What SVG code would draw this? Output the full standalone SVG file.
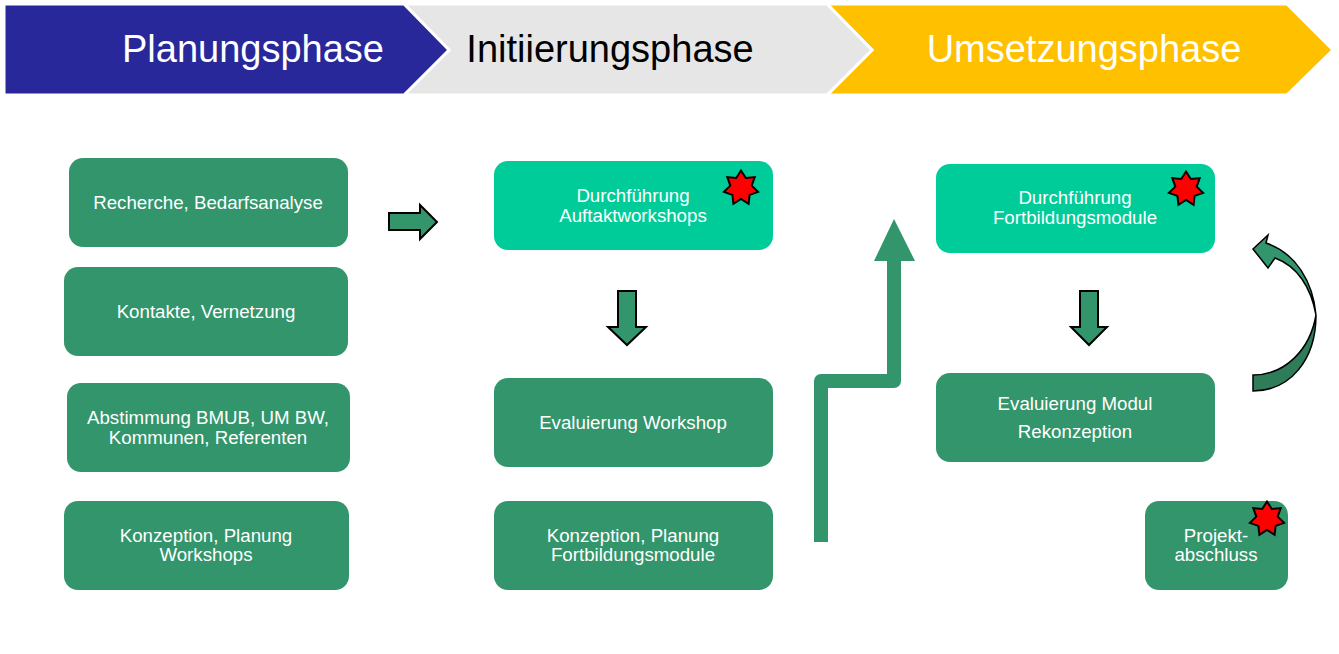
<svg xmlns="http://www.w3.org/2000/svg" width="1339" height="654" viewBox="0 0 1339 654">
<style>
.box{fill:#33956B}
.hi{fill:#00CC99}
.t{font-family:"Liberation Sans",Arial,sans-serif;font-size:18.7px;fill:#FFFFFF;text-anchor:middle}
.ph{font-family:"Liberation Sans",Arial,sans-serif;font-size:38px;text-anchor:middle}
.blk{fill:#33956B;stroke:#000000;stroke-width:2;stroke-linejoin:miter}
.star{fill:#FF0000;stroke:#000000;stroke-width:2;stroke-linejoin:miter}
</style>
<defs>
<path id="star" d="M0,-17.5 L4.8,-10 L13.7,-10.9 L10.7,-2.4 L17.1,3.9 L8.6,6.9 L7.6,15.8 L0,11 L-7.6,15.8 L-8.6,6.9 L-17.1,3.9 L-10.7,-2.4 L-13.7,-10.9 L-4.8,-10 Z"/>
</defs>
<rect width="1339" height="654" fill="#FFFFFF"/>
<g id="banner">
<polygon points="827,4 1287,4 1333,50 1287,95 827,95 872,50" fill="#FFC000" stroke="#FFFFFF" stroke-width="3"/>
<polygon points="404,4 827,4 872,50 827,95 404,95 449,50" fill="#E6E6E6" stroke="#FFFFFF" stroke-width="3"/>
<polygon points="4,4 404,4 449,50 404,95 4,95" fill="#28289A" stroke="#FFFFFF" stroke-width="3"/>
<text class="ph" x="253" y="62" fill="#FFFFFF">Planungsphase</text>
<text class="ph" x="610" y="62" fill="#000000">Initiierungsphase</text>
<text class="ph" x="1084" y="62" fill="#FFFFFF">Umsetzungsphase</text>
</g>
<g id="n-recherche">
<rect class="box" x="69" y="158" width="279" height="89" rx="14"/>
<text class="t" x="208" y="208.5">Recherche, Bedarfsanalyse</text>
</g>
<g id="n-kontakte">
<rect class="box" x="64" y="267" width="284" height="89" rx="14"/>
<text class="t" x="206" y="317.5">Kontakte, Vernetzung</text>
</g>
<g id="n-abstimmung">
<rect class="box" x="67" y="383" width="283" height="89" rx="14"/>
<text class="t" x="208" y="423.5">Abstimmung BMUB, UM BW,</text>
<text class="t" x="208" y="443.5">Kommunen, Referenten</text>
</g>
<g id="n-konzeption1">
<rect class="box" x="64" y="501" width="285" height="89" rx="14"/>
<text class="t" x="206" y="541.5">Konzeption, Planung</text>
<text class="t" x="206" y="560.5">Workshops</text>
</g>
<g id="n-auftakt">
<rect class="hi" x="494" y="161" width="279" height="89" rx="14"/>
<text class="t" x="633" y="201.5">Durchführung</text>
<text class="t" x="633" y="221.5">Auftaktworkshops</text>
<use href="#star" class="star" x="741" y="188"/>
</g>
<g id="n-evalws">
<rect class="box" x="494" y="378" width="279" height="89" rx="14"/>
<text class="t" x="633" y="428.5">Evaluierung Workshop</text>
</g>
<g id="n-konzeption2">
<rect class="box" x="494" y="501" width="279" height="89" rx="14"/>
<text class="t" x="633" y="541.5">Konzeption, Planung</text>
<text class="t" x="633" y="560.5">Fortbildungsmodule</text>
</g>
<g id="n-fortbildung">
<rect class="hi" x="936" y="164" width="279" height="89" rx="14"/>
<text class="t" x="1075" y="203.5">Durchführung</text>
<text class="t" x="1075" y="223.5">Fortbildungsmodule</text>
<use href="#star" class="star" x="1186" y="189"/>
</g>
<g id="n-evalmodul">
<rect class="box" x="936" y="373" width="279" height="89" rx="14"/>
<text class="t" x="1075" y="409.5">Evaluierung Modul</text>
<text class="t" x="1075" y="437.5">Rekonzeption</text>
</g>
<g id="n-abschluss">
<rect class="box" x="1145" y="501" width="143" height="89" rx="14"/>
<text class="t" x="1216" y="541.5">Projekt-</text>
<text class="t" x="1216" y="560.5">abschluss</text>
<use href="#star" class="star" x="1267" y="519"/>
</g>
<g id="connectors">
<polygon class="blk" points="389,213 420,213 420,205 437,222 420,239 420,230 389,230"/>
<polygon class="blk" points="618,291 636,291 636,327 646,327 627,345 608,327 618,327"/>
<polygon class="blk" points="1080,291 1098,291 1098,327 1107,327 1089,345 1071,327 1080,327"/>
<polyline points="821,542 821,381 894,381 894,258" fill="none" stroke="#33956B" stroke-width="14" stroke-linejoin="round"/>
<polygon points="874,261 915,261 894,219" fill="#33956B"/>
<path d="M1316,315 C1316,360 1290,391 1253,391 L1253,375 C1285,375 1310,350 1316,315 Z" fill="#2E7D58" stroke="#000000" stroke-width="1.5"/>
<path d="M1253,249 L1268,235 L1266,243 C1296,253 1313,282 1316,315 C1311,287 1297,266 1275,258 L1268,268 Z" fill="#33956B" stroke="#000000" stroke-width="1.5" stroke-linejoin="miter"/>
</g>
</svg>
